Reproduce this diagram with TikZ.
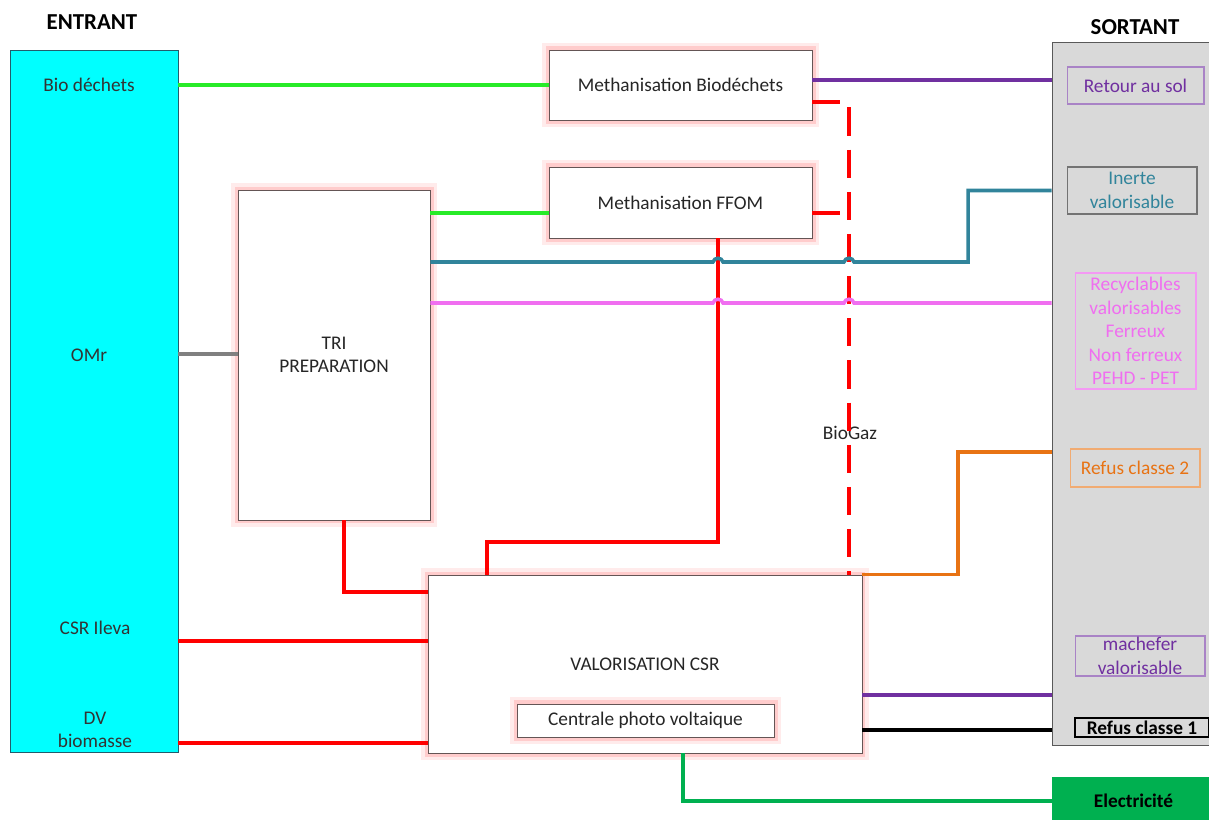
\documentclass[tikz,border=0pt]{standalone}
\usepackage{fontspec}
\setmainfont{Carlito}
\usetikzlibrary{positioning,calc}

\definecolor{cyanbox}{RGB}{0,255,255}
\definecolor{grisbox}{RGB}{217,217,217}
\definecolor{vertvif}{RGB}{40,235,40}
\definecolor{bleucanard}{RGB}{49,132,155}
\definecolor{rose}{RGB}{240,110,240}
\definecolor{violet}{RGB}{112,48,160}
\definecolor{orange}{RGB}{232,115,20}
\definecolor{vertelec}{RGB}{0,176,80}
\definecolor{bordbox}{RGB}{100,85,85}

\begin{document}
\begin{tikzpicture}[
    x=0.02cm, y=-0.02cm,
    font=\fontsize{11}{13.4}\selectfont,
    proc/.style={draw=bordbox, fill=white, align=center, inner sep=0pt,
      preaction={draw=red!8, line width=8pt},
      preaction={draw=red!20, line width=4pt}, text=black!85},
    sortie/.style={draw, line width=.6pt, align=center, inner sep=0pt},
    titre/.style={font=\fontsize{13}{15}\selectfont\bfseries},
    flux/.style={line width=2pt}
  ]
    \useasboundingbox (0,0) rectangle (1209,820);

    % colonnes entrant / sortant
    \node[titre] (tentrant) at (92,22) {ENTRANT};
    \node[draw=bleucanard!70!black, fill=cyanbox, minimum width=3.36cm,
      minimum height=14.04cm, inner sep=0pt] (entrant) at (94,401) {};
    \node[titre] (tsortant) at (1135,27) {SORTANT};
    \node[draw=black!65, fill=grisbox, minimum width=3.26cm,
      minimum height=14.06cm, inner sep=0pt] (sortant) at (1133.5,393.5) {};

    \node[text=black!80] (lbio) at (89,85) {Bio déchets};
    \node[text=black!80] (lomr) at (89,355) {OMr};
    \node[text=black!80] (lcsr) at (95,628) {CSR Ileva};
    \node[text=black!80, align=center] (ldv) at (95,730) {DV\\biomasse};

    % procedes
    \node[proc, minimum width=5.26cm, minimum height=1.4cm] (methbio) at (680.5,85)
      {Methanisation Biodéchets};
    \node[proc, minimum width=5.26cm, minimum height=1.42cm] (ffom) at (680.5,202.5)
      {Methanisation FFOM};
    \node[proc, minimum width=3.84cm, minimum height=6.6cm] (tri) at (334,355)
      {TRI\\PREPARATION};
    \node[proc, minimum width=8.68cm, minimum height=3.56cm] (valo) at (645,664)
      {VALORISATION CSR};
    \node[proc, minimum width=5.14cm, minimum height=.66cm] (pv) at (645.5,720.5)
      {Centrale photo voltaique};
    \node[text=black!85] (biogaz) at (850,433) {BioGaz};

    % sorties
    \node[sortie, draw=violet!60, text=violet, minimum width=2.74cm,
      minimum height=.74cm] (retour) at (1135.5,85.5) {Retour au sol};
    \node[sortie, draw=black!55, text=bleucanard, minimum width=2.6cm,
      minimum height=.94cm] (inerte) at (1132,190.5) {Inerte\\valorisable};
    \node[sortie, draw=rose!70, text=rose, minimum width=2.42cm,
      minimum height=2.32cm] (recycl) at (1135.5,331)
      {Recyclables\\valorisables\\Ferreux\\Non ferreux\\PEHD - PET};
    \node[sortie, draw=orange!60, text=orange, minimum width=2.6cm,
      minimum height=.76cm] (refus2) at (1135,468) {Refus classe 2};
    \node[sortie, draw=violet!60, text=violet, minimum width=2.6cm,
      minimum height=.8cm] (machefer) at (1140,656) {machefer\\valorisable};
    \node[sortie, line width=1.2pt, font=\fontsize{11}{13.4}\selectfont\bfseries,
      minimum width=2.68cm, minimum height=.38cm] (refus1) at (1142,727.5)
      {Refus classe 1};
    \node[fill=vertelec, font=\fontsize{11}{13.4}\selectfont\bfseries,
      minimum width=3.26cm, minimum height=.96cm, inner sep=0pt] (elec)
      at (1133.5,801) {Electricité};

    % flux entrants
    \draw[flux, vertvif] (entrant.east |- lbio) -- (methbio.west |- lbio);
    \draw[flux, black!50] (entrant.east |- 0,354) -- (tri.west |- 0,354);
    \draw[flux, red] (entrant.east |- 0,641) -- (valo.west |- 0,641);
    \draw[flux, red] (entrant.east |- 0,743) -- (valo.west |- 0,743);

    % flux tri
    \draw[flux, vertvif] (tri.east |- 0,213) -- (ffom.west |- 0,213);
    \draw[flux, red] (tri.south -| 344,0) |- (valo.west |- 0,592);
    \draw[flux, red] (ffom.south -| 718,0) -- (718,542) -| (valo.north -| 487,0);

    % biogaz
    \draw[flux, red, dash pattern=on 16pt off 8pt] (methbio.east |- 0,102)
      -- (849,102) -- (valo.north -| 849,0);
    \draw[flux, red, dash pattern=on 16pt off 8pt] (ffom.east |- 0,213) -- (849,213);

    % flux sortants
    \draw[flux, violet] (methbio.east |- 0,80) -- (sortant.west |- 0,80);
    \draw[flux, bleucanard] (tri.east |- 0,262) -- (713,262)
      .. controls (714,257) and (722,257) .. (723,262) -- (844,262)
      .. controls (845,257) and (853,257) .. (854,262) -- (968,262)
      |- (sortant.west |- inerte);
    \draw[flux, rose] (tri.east |- 0,303) -- (713,303)
      .. controls (714,298) and (722,298) .. (723,303) -- (844,303)
      .. controls (845,298) and (853,298) .. (854,303)
      -- (sortant.west |- 0,303);
    \draw[flux, orange] (valo.north east) -- (valo.north east -| 958,0)
      |- (sortant.west |- 0,452);
    \draw[flux, violet] (valo.east |- 0,695) -- (sortant.west |- 0,695);
    \draw[flux, black] (valo.east |- 0,730) -- (sortant.west |- 0,730);
    \draw[flux, vertelec] (valo.south -| 683,0) |- (elec.west);
  \end{tikzpicture}
\end{document}
